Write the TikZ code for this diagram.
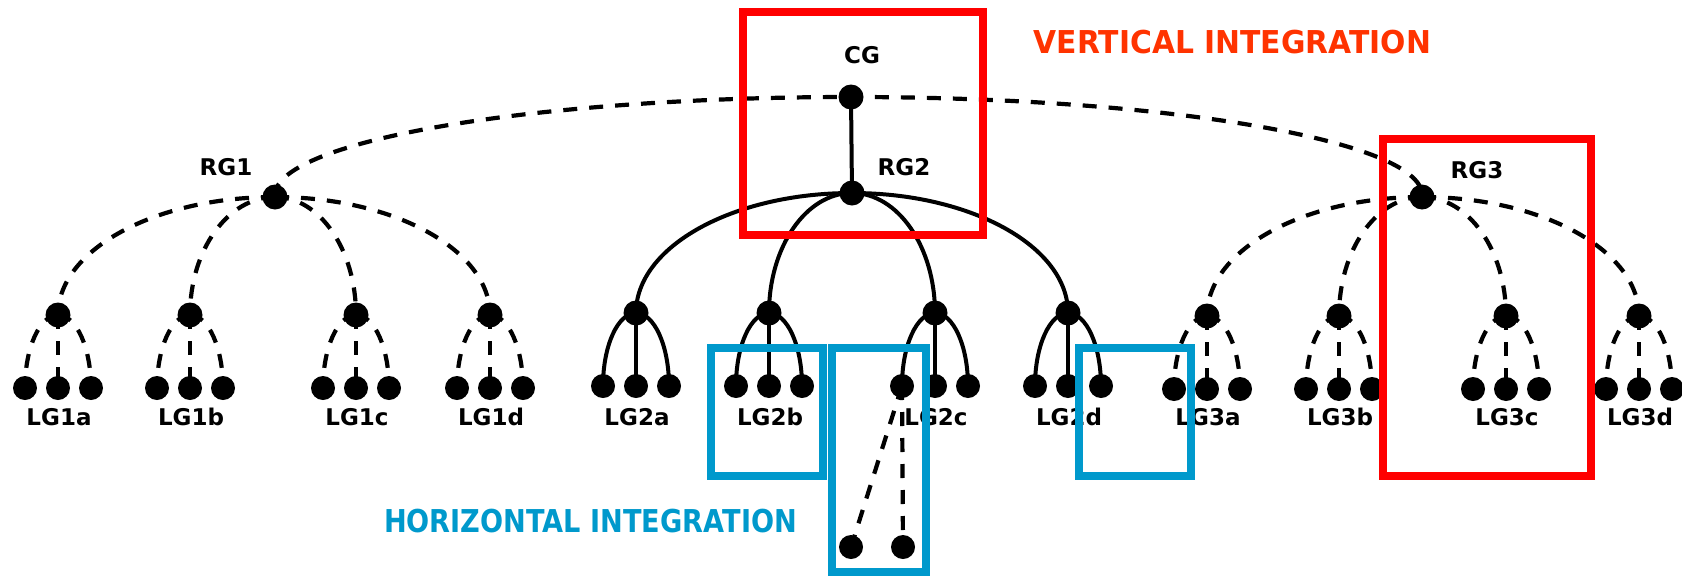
\documentclass[tikz,border=0pt]{standalone}
\usepackage{fontspec}
\setmainfont{DejaVu Sans}
\usetikzlibrary{calc}
\pgfdeclarelayer{bg}
\pgfsetlayers{bg,main}
\definecolor{boxred}{RGB}{255,0,0}
\definecolor{txtred}{RGB}{255,51,0}
\definecolor{hblue}{RGB}{0,153,204}
\tikzset{
  dot/.style={circle, fill=black, inner sep=0pt, minimum size=25pt},
  leaf/.style={circle, fill=black, inner sep=0pt, minimum size=24pt},
  lbl/.style={font=\fontsize{23}{23}\selectfont\bfseries, anchor=base, inner sep=0pt},
  bigtxt/.style={font=\fontsize{31.5}{32}\selectfont\bfseries, anchor=base, inner sep=0pt},
  dashedline/.style={line width=4.2pt, dash pattern=on 14pt off 12pt},
  solidline/.style={line width=4pt},
  qarc/.style={to path={.. controls ($(\tikztostart)!0.5523!(\tikztostart -| \tikztotarget)$) and ($(\tikztotarget)!0.5523!(\tikztostart -| \tikztotarget)$) .. (\tikztotarget)}},
  redbox/.style={draw=boxred, line width=7.5pt},
  bluebox/.style={draw=hblue, line width=7.5pt},
}
\begin{document}
\begin{tikzpicture}[x=1pt,y=1pt]
\useasboundingbox (0,0) rectangle (1682,-576);
% top nodes
\node[dot] (CG) at (851,-97) {};
\node[dot] (RG1) at (275,-197) {};
\node[dot] (RG2) at (852,-193) {};
\node[dot] (RG3) at (1422,-197) {};
\node[lbl] (tCG) at (862,-63) {CG};
\node[lbl] (tRG1) at (226,-175) {RG1};
\node[lbl] (tRG2) at (904,-175) {RG2};
\node[lbl] (tRG3) at (1477,-178) {RG3};
% local groups
\foreach \n/\x/\ym/\yl in {1a/58/315/388,1b/190/315/388,1c/356/315/388,1d/490/315/388,2a/636/313/386,2b/769/313/386,2c/935/313/386,2d/1068/313/386,3a/1207/316/389,3b/1339/316/389,3c/1506/316/389,3d/1639/316/389}{
  \node[dot] (M\n) at (\x,-\ym) {};
  \node[leaf] (L\n-1) at (\x-33,-\yl) {};
  \node[leaf] (L\n-2) at (\x,-\yl) {};
  \node[leaf] (L\n-3) at (\x+33,-\yl) {};
  \node[lbl] (T\n) at (\x+1,-425) {LG\n};
}
% extra dots below LG2c
\node[leaf] (B1) at (851,-547) {};
\node[leaf] (B2) at (903,-547) {};
\begin{pgfonlayer}{bg}
  \fill[white] (0,0) rectangle (1682,-576);
  \draw[dashedline] (RG1.center) .. controls (270,-142) and (530,-97) .. (CG.center)
                    .. controls (1170,-97) and (1428,-142) .. (RG3.center);
  \draw[solidline] (CG.center) -- (RG2.center);
  \foreach \n in {1a,1b,1c,1d}{\draw[dashedline] (RG1.center) to[qarc] (M\n.center);}
  \foreach \n in {2a,2b,2c,2d}{\draw[solidline] (RG2.center) to[qarc] (M\n.center);}
  \foreach \n in {3a,3b,3c,3d}{\draw[dashedline] (RG3.center) to[qarc] (M\n.center);}
  \foreach \n in {1a,1b,1c,1d,3a,3b,3c,3d}{
    \draw[dashedline] (M\n.center) to[qarc] (L\n-1.center);
    \draw[dashedline] (M\n.center) -- (L\n-2.center);
    \draw[dashedline] (M\n.center) to[qarc] (L\n-3.center);
  }
  \foreach \n in {2a,2b,2c,2d}{
    \draw[solidline] (M\n.center) to[qarc] (L\n-1.center);
    \draw[solidline] (M\n.center) -- (L\n-2.center);
    \draw[solidline] (M\n.center) to[qarc] (L\n-3.center);
  }
  \draw[dashedline] (L2c-1.center) -- (B1.center);
  \draw[dashedline] (L2c-1.center) -- (B2.center);
\end{pgfonlayer}
% captions
\node[bigtxt, text=txtred] (VI) at (1232.5,-53) {\scalebox{0.946}[1]{VERTICAL INTEGRATION}};
\node[bigtxt, text=hblue] (HI) at (590.5,-532) {\scalebox{0.862}[1]{HORIZONTAL INTEGRATION}};
% highlight boxes
\draw[redbox] (743,-12) rectangle (983,-235);
\draw[redbox] (1383,-139) rectangle (1591,-476);
\draw[bluebox] (711,-348) rectangle (823,-476);
\draw[bluebox] (832,-348) rectangle (926,-572);
\draw[bluebox] (1079,-348) rectangle (1191,-476);
\end{tikzpicture}
\end{document}
